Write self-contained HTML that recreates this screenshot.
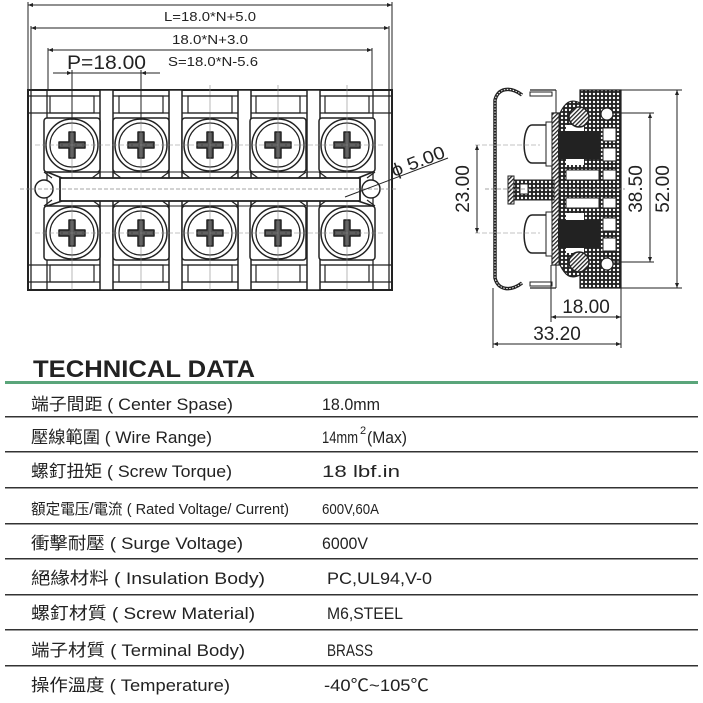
<!DOCTYPE html>
<html><head><meta charset="utf-8"><style>
html,body{margin:0;padding:0;background:#fff;width:703px;height:703px;overflow:hidden}
svg{display:block}
.t{font-family:"Liberation Sans Narrow","Liberation Sans","Noto Sans CJK TC",sans-serif;fill:#222}
</style></head><body>
<svg width="703" height="703" viewBox="0 0 703 703" xmlns="http://www.w3.org/2000/svg">
<defs>
<marker id="ar" viewBox="0 0 10 10" refX="10" refY="5" markerWidth="9" markerHeight="5" orient="auto-start-reverse"><path d="M0,1 L10,5 L0,9z" fill="#222"/></marker>
<pattern id="dots" width="4" height="4" patternUnits="userSpaceOnUse"><rect width="4" height="4" fill="#222"/><circle cx="2" cy="2" r="1.2" fill="#fff"/></pattern>
<pattern id="hat" width="3" height="3" patternUnits="userSpaceOnUse" patternTransform="rotate(45)"><rect width="3" height="3" fill="#fff"/><rect width="1.3" height="3" fill="#222"/></pattern>
<g id="scr">
<circle r="26" fill="#fff" stroke="#222" stroke-width="1.5"/>
<circle r="22" fill="none" stroke="#222" stroke-width="1.2"/>
<path d="M-3,-13 h6 v10 h10 v6 h-10 v10 h-6 v-10 h-10 v-6 h10z" fill="#555" stroke="#222" stroke-width="1.5" stroke-linejoin="round"/>
</g>
<g id="cell">
<rect x="-28" y="118" width="56" height="54" rx="3" fill="#fff" stroke="#222" stroke-width="1.5"/>
<rect x="-28" y="206" width="56" height="54" rx="3" fill="#fff" stroke="#222" stroke-width="1.5"/>
<use href="#scr" x="0" y="145"/>
<use href="#scr" x="0" y="233"/>
<line x1="0" y1="85" x2="0" y2="290" stroke="#888" stroke-width="0.6"/>
<rect x="-22" y="96" width="44" height="17" fill="none" stroke="#222" stroke-width="1.2"/>
<rect x="-22" y="265" width="44" height="17" fill="none" stroke="#222" stroke-width="1.2"/>
<path d="M-28,172 L-20,178 M-28,206 L-20,200 M28,172 L20,178 M28,206 L20,200" stroke="#222" stroke-width="1.2"/>
</g>
<g id="post">
<rect x="-6.5" y="90" width="13" height="200" fill="#fff" stroke="#222" stroke-width="1.5"/>
<line x1="-6.5" y1="172" x2="6.5" y2="172" stroke="#222"/><line x1="-6.5" y1="206" x2="6.5" y2="206" stroke="#222"/>
</g>
</defs>

<rect x="28" y="90" width="364" height="200" fill="#fff" stroke="#222" stroke-width="2"/>
<line x1="28" y1="96" x2="392" y2="96" stroke="#222" stroke-width="1.2"/>
<line x1="28" y1="113" x2="392" y2="113" stroke="#222" stroke-width="1.2"/>
<line x1="28" y1="265" x2="392" y2="265" stroke="#222" stroke-width="1.2"/>
<line x1="28" y1="282" x2="392" y2="282" stroke="#222" stroke-width="1.2"/>
<rect x="31" y="90" width="16" height="200" fill="none" stroke="#222" stroke-width="1.3"/>
<rect x="373" y="90" width="16" height="200" fill="none" stroke="#222" stroke-width="1.3"/>
<use href="#post" x="106.5"/><use href="#post" x="175.5"/><use href="#post" x="244.5"/><use href="#post" x="313.5"/>
<use href="#cell" x="72"/><use href="#cell" x="141"/><use href="#cell" x="210"/><use href="#cell" x="278"/><use href="#cell" x="347"/>
<rect x="60" y="178" width="300" height="23" fill="#fff" stroke="#222" stroke-width="1.8"/>
<path d="M47,172 L62,178 M47,206 L62,201 M373,172 L358,178 M373,206 L358,201" stroke="#222" stroke-width="1.5"/>
<circle cx="44" cy="189" r="9" fill="#fff" stroke="#222" stroke-width="1.5"/>
<circle cx="371" cy="189" r="9" fill="#fff" stroke="#222" stroke-width="1.5"/>
<line x1="20" y1="189" x2="398" y2="189" stroke="#888" stroke-width="0.7" stroke-dasharray="4,2"/>
<line x1="35" y1="145" x2="385" y2="145" stroke="#888" stroke-width="0.6" stroke-dasharray="5,2"/>
<line x1="35" y1="233" x2="385" y2="233" stroke="#888" stroke-width="0.6" stroke-dasharray="5,2"/>

<g stroke="#222" stroke-width="1">
<line x1="28" y1="2" x2="28" y2="90"/><line x1="392" y1="2" x2="392" y2="90"/>
<line x1="31" y1="26" x2="31" y2="90"/><line x1="389" y1="26" x2="389" y2="90"/>
<line x1="48" y1="48" x2="48" y2="90"/><line x1="372" y1="48" x2="372" y2="90"/>
<line x1="28" y1="5" x2="392" y2="5" marker-start="url(#ar)" marker-end="url(#ar)"/>
<line x1="31" y1="28" x2="389" y2="28" marker-start="url(#ar)" marker-end="url(#ar)"/>
<line x1="48" y1="50" x2="372" y2="50" marker-start="url(#ar)" marker-end="url(#ar)"/>
<line x1="53" y1="73" x2="72" y2="73" marker-end="url(#ar)"/>
<line x1="72" y1="73" x2="160" y2="73"/>
<line x1="141" y1="73" x2="160" y2="73" marker-start="url(#ar)"/>
<line x1="72" y1="70" x2="72" y2="120"/><line x1="141" y1="70" x2="141" y2="120"/>
<line x1="345" y1="197" x2="448" y2="158"/>
</g>
<text class="t" x="210" y="21" font-size="13" text-anchor="middle" textLength="92" lengthAdjust="spacingAndGlyphs">L=18.0*N+5.0</text>
<text class="t" x="210" y="44" font-size="13" text-anchor="middle" textLength="76" lengthAdjust="spacingAndGlyphs">18.0*N+3.0</text>
<text class="t" x="168" y="66" font-size="13" textLength="90" lengthAdjust="spacingAndGlyphs">S=18.0*N-5.6</text>
<text class="t" x="67" y="69" font-size="19" style="font-family:'Liberation Sans',sans-serif" textLength="79" lengthAdjust="spacingAndGlyphs">P=18.00</text>
<text class="t" x="394" y="177" font-size="18" style="font-family:'Liberation Sans',sans-serif" transform="rotate(-21 394 177)" textLength="56" lengthAdjust="spacingAndGlyphs">ϕ 5.00</text>

<path d="M522,95 C510,86 498,88 495,100 L495,278 C498,290 510,292 522,283" fill="none" stroke="#222" stroke-width="3.5"/>
<path d="M522,95 C510,86 498,88 495,100 L495,278 C498,290 510,292 522,283" fill="none" stroke="#fff" stroke-width="1" stroke-dasharray="1.5,1.5"/>
<line x1="530" y1="90" x2="556" y2="90" stroke="#222" stroke-width="1.2"/><line x1="530" y1="288" x2="556" y2="288" stroke="#222" stroke-width="1.2"/>
<rect x="530" y="92" width="22" height="4" fill="none" stroke="#222"/><rect x="530" y="282" width="22" height="4" fill="none" stroke="#222"/>
<line x1="556" y1="90" x2="556" y2="288" stroke="#222" stroke-width="1"/>
<path d="M580,90 H621 V288 H580 V275 C570,280 565,275 560,265 H552 V113 H560 C565,103 570,98 580,103Z" fill="url(#dots)" stroke="#222" stroke-width="1.2"/>
<rect x="566" y="125" width="18" height="40" fill="#fff"/>
<rect x="566" y="213" width="18" height="40" fill="#fff"/>
<rect x="566" y="170" width="33" height="10" fill="#fff" stroke="#222"/>
<rect x="566" y="198" width="33" height="10" fill="#fff" stroke="#222"/>
<rect x="603" y="128" width="13" height="13" fill="#fff" stroke="#222"/>
<rect x="603" y="148" width="13" height="13" fill="#fff" stroke="#222"/>
<rect x="603" y="170" width="13" height="10" fill="#fff" stroke="#222"/>
<rect x="603" y="198" width="13" height="10" fill="#fff" stroke="#222"/>
<rect x="603" y="218" width="13" height="13" fill="#fff" stroke="#222"/>
<rect x="603" y="238" width="13" height="13" fill="#fff" stroke="#222"/>
<circle cx="579" cy="117" r="10" fill="url(#hat)" stroke="#222" stroke-width="1.5"/>
<circle cx="579" cy="262" r="10" fill="url(#hat)" stroke="#222" stroke-width="1.5"/>
<circle cx="607" cy="114" r="6" fill="#fff" stroke="#222" stroke-width="1.2"/>
<circle cx="607" cy="264" r="6" fill="#fff" stroke="#222" stroke-width="1.2"/>
<rect x="552" y="113" width="7" height="152" fill="url(#hat)" stroke="#222"/>
<rect x="558" y="131" width="42" height="28" fill="#222"/>
<rect x="558" y="220" width="42" height="28" fill="#222"/>
<path d="M548,125 H532 C522,125 521,163 532,163 H548Z" fill="#fff" stroke="#222" stroke-width="1.5"/>
<path d="M548,215 H532 C522,215 521,253 532,253 H548Z" fill="#fff" stroke="#222" stroke-width="1.5"/>
<rect x="546" y="122" width="6" height="44" fill="#fff" stroke="#222"/>
<rect x="546" y="212" width="6" height="44" fill="#fff" stroke="#222"/>
<rect x="512" y="180" width="42" height="20" fill="url(#dots)" stroke="#222"/>
<rect x="508" y="176" width="6" height="28" fill="url(#hat)" stroke="#222"/>
<rect x="520" y="184" width="8" height="10" fill="#fff" stroke="#222"/>
<line x1="485" y1="189" x2="625" y2="189" stroke="#888" stroke-width="0.7" stroke-dasharray="4,2"/>
<line x1="475" y1="145" x2="540" y2="145" stroke="#888" stroke-width="0.6" stroke-dasharray="5,2"/>
<line x1="475" y1="233" x2="540" y2="233" stroke="#888" stroke-width="0.6" stroke-dasharray="5,2"/>
<g stroke="#222" stroke-width="1">
<line x1="621" y1="90" x2="682" y2="90"/><line x1="621" y1="288" x2="682" y2="288"/>
<line x1="612" y1="113" x2="654" y2="113"/><line x1="612" y1="262" x2="654" y2="262"/>
<line x1="677" y1="90" x2="677" y2="288" marker-start="url(#ar)" marker-end="url(#ar)"/>
<line x1="650" y1="113" x2="650" y2="262" marker-start="url(#ar)" marker-end="url(#ar)"/>
<line x1="477" y1="145" x2="477" y2="233" marker-start="url(#ar)" marker-end="url(#ar)"/>
<line x1="493" y1="288" x2="493" y2="348"/><line x1="621" y1="288" x2="621" y2="348"/>
<line x1="551" y1="265" x2="551" y2="322"/>
<line x1="551" y1="317" x2="621" y2="317" marker-start="url(#ar)" marker-end="url(#ar)"/>
<line x1="493" y1="344" x2="621" y2="344" marker-start="url(#ar)" marker-end="url(#ar)"/>
</g>
<g style="font-family:'Liberation Sans',sans-serif" font-size="19" fill="#222">
<text x="472" y="189" text-anchor="middle" transform="rotate(-90 472 189)" dy="-3">23.00</text>
<text x="645" y="189" text-anchor="middle" transform="rotate(-90 645 189)" dy="-3">38.50</text>
<text x="672" y="189" text-anchor="middle" transform="rotate(-90 672 189)" dy="-3">52.00</text>
<text x="586" y="313" text-anchor="middle">18.00</text>
<text x="557" y="340" text-anchor="middle">33.20</text>
</g>

<text x="33" y="377" style="font-family:'Liberation Sans',sans-serif;font-weight:bold" font-size="24" fill="#222" textLength="222" lengthAdjust="spacingAndGlyphs">TECHNICAL DATA</text>
<rect x="5" y="381" width="693" height="3" fill="#5aa57a"/>
<g fill="#333">
<rect x="5" y="416" width="693" height="1.5"/><rect x="5" y="451" width="693" height="1.5"/>
<rect x="5" y="487" width="693" height="1.5"/><rect x="5" y="523" width="693" height="1.5"/>
<rect x="5" y="558" width="693" height="1.5"/><rect x="5" y="594" width="693" height="1.5"/>
<rect x="5" y="629" width="693" height="1.5"/><rect x="5" y="665" width="693" height="1.5"/>
</g>
<g class="t" font-size="17">
<text x="31" y="410" textLength="202" lengthAdjust="spacingAndGlyphs">端子間距 ( Center Spase)</text>
<text x="31" y="443" textLength="181" lengthAdjust="spacingAndGlyphs">壓線範圍 ( Wire Range)</text>
<text x="31" y="477" textLength="201" lengthAdjust="spacingAndGlyphs">螺釘扭矩 ( Screw Torque)</text>
<text x="31" y="514" font-size="15" textLength="258" lengthAdjust="spacingAndGlyphs">額定電压/電流 ( Rated Voltage/ Current)</text>
<text x="31" y="549" textLength="212" lengthAdjust="spacingAndGlyphs">衝擊耐壓 ( Surge Voltage)</text>
<text x="31" y="584" textLength="234" lengthAdjust="spacingAndGlyphs">絕緣材料 ( Insulation Body)</text>
<text x="31" y="619" textLength="224" lengthAdjust="spacingAndGlyphs">螺釘材質 ( Screw Material)</text>
<text x="31" y="656" textLength="214" lengthAdjust="spacingAndGlyphs">端子材質 ( Terminal Body)</text>
<text x="31" y="691" textLength="199" lengthAdjust="spacingAndGlyphs">操作溫度 ( Temperature)</text>
<text x="322" y="410" textLength="58" lengthAdjust="spacingAndGlyphs">18.0mm</text>
<text x="322" y="443" textLength="36" lengthAdjust="spacingAndGlyphs">14mm</text>
<text x="360" y="434" font-size="11">2</text>
<text x="367" y="443" textLength="40" lengthAdjust="spacingAndGlyphs">(Max)</text>
<text x="322" y="477" textLength="78" lengthAdjust="spacingAndGlyphs">18 lbf.in</text>
<text x="322" y="514" font-size="15" textLength="57" lengthAdjust="spacingAndGlyphs">600V,60A</text>
<text x="322" y="549" textLength="46" lengthAdjust="spacingAndGlyphs">6000V</text>
<text x="327" y="584" textLength="105" lengthAdjust="spacingAndGlyphs">PC,UL94,V-0</text>
<text x="327" y="619" textLength="76" lengthAdjust="spacingAndGlyphs">M6,STEEL</text>
<text x="327" y="656" textLength="46" lengthAdjust="spacingAndGlyphs">BRASS</text>
<text x="324" y="691" textLength="105" lengthAdjust="spacingAndGlyphs">-40℃~105℃</text>
</g>
</svg>
</body></html>
